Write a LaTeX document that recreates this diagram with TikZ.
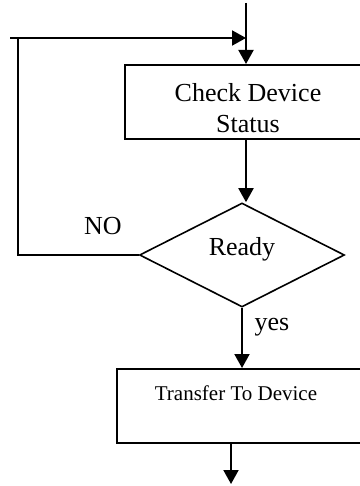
\documentclass[tikz,border=0pt]{standalone}
\usepackage{fontspec}
\setmainfont{Liberation Serif}
\usepackage{tikz}
\usetikzlibrary{arrows.meta,positioning,calc,shapes.geometric}
\tikzset{
  pbox/.style={draw=black,line width=1pt,rectangle,inner sep=0pt,minimum width=#1,minimum height=37pt},
  pbox/.default=118.5pt,
  dbox/.style={draw=black,line width=0.8pt,diamond,inner sep=0pt,minimum width=102.5pt,minimum height=52pt},
  arr/.style={-{Triangle[length=7pt,width=7.5pt]},line width=1pt,color=black},
  ln/.style={line width=0.8pt,color=black},
  lbl/.style={font=\fontsize{13}{15.5}\selectfont,align=center,inner sep=0pt},
}

\begin{document}
\begin{tikzpicture}[x=0.5pt,y=-0.5pt]
          \useasboundingbox (0,0) rectangle (359,486);
          % boxes
          \node[pbox] (chk) at (243.5,102) {};
          \node[lbl] (chktxt) at (248,108.5) {Check Device\\Status};
          \node[dbox] (rdy) at (242,255) {};
          \node[lbl] (rdytxt) at (242,249) {Ready};
          \node[pbox=122.5pt] (xfer) at (239.5,406) {};
          \node[lbl,font=\fontsize{10.5}{12}\selectfont] (xfertxt) at (236,393) {Transfer To Device};
          % loop points
          \coordinate (top) at (246,3);
          \coordinate (join) at (246,38);
          \coordinate (lft) at (10,38);
          \coordinate (lp) at (18,38);
          \coordinate (out) at (231,484);
          \draw[arr] (top) -- (top |- chk.north);
          \draw[arr] (lft) -- (join);
          \draw[ln] (rdy.west) -| (lp);
          \draw[arr] (top |- chk.south) -- (top |- rdy.north);
          \draw[arr] (rdy.south) -- (rdy.south |- xfer.north);
          \draw[arr] (out |- xfer.south) -- (out);
          % labels
          \node[lbl] (no) at (103,226) {NO};
          \node[lbl] (yes) at (272,327) {yes};
        \end{tikzpicture}
\end{document}
